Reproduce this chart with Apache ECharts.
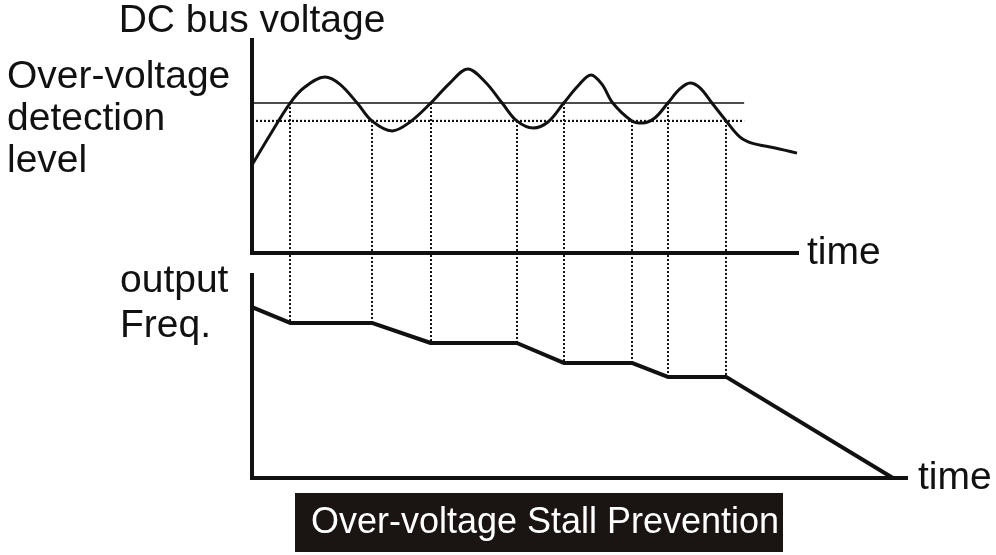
<!DOCTYPE html>
<html>
<head>
<meta charset="utf-8">
<script src="https://cdn.jsdelivr.net/npm/echarts@6/dist/echarts.min.js"></script>
<style>
  html, body { margin: 0; padding: 0; background: #fff; }
  #chart { width: 996px; height: 555px; }
</style>
</head>
<body>
<div id="chart"></div>
<script>
// DC bus voltage (top panel), time in arbitrary units
const voltTime = [0, 3.3, 7.0, 9.7, 13.4, 16.1, 19.3, 22.0, 25.7, 29.0,
  32.8, 36.3, 39.6, 42.8, 45.9, 48.6, 51.6, 54.3, 57.2, 59.8,
  62.2, 64.2, 66.2, 69.7, 71.6, 73.9, 76.3, 78.5, 80.4, 82.2,
  84.4, 87.0, 89.5, 91.7, 96.0, 100];
const voltage = [41.3, 55.4, 70.4, 77.9, 82.6, 79.3, 70.4, 62.0, 57.3, 61.5,
  70.4, 79.8, 86.4, 80.3, 70.4, 62.0, 58.7, 61.5, 70.4, 78.4,
  83.6, 79.3, 70.4, 62.0, 61.0, 63.4, 70.4, 77.0, 79.8, 77.5,
  70.4, 62.0, 54.5, 51.6, 49.3, 46.9];

// over-voltage detection levels
const upperLevel = 70.4;
const lowerLevel = 62.0;
const levelEnd = 90.3;

// output frequency (bottom panel)
const freqTime = [0, 7.0, 22.0, 32.8, 48.6, 57.2, 69.7, 76.3, 87.0, 117.6];
const freq = [84.2, 76.4, 76.4, 66.5, 66.5, 56.7, 56.7, 49.8, 49.8, 0];

// moments where the voltage crosses a level (stall on / off)
const crossTime = [7.0, 22.0, 32.8, 48.6, 57.2, 69.7, 76.3, 87.0];
const crossLevel = [upperLevel, lowerLevel, upperLevel, lowerLevel, upperLevel, lowerLevel, upperLevel, lowerLevel];
const crossFreq = [76.4, 76.4, 66.5, 66.5, 56.7, 56.7, 49.8, 49.8];

const ink = '#111111';
const font = 'Liberation Sans';

const chart = echarts.init(document.getElementById('chart'));

const axisLine = { show: true, lineStyle: { color: ink, width: 4, cap: 'square' } };
const bare = { axisTick: { show: false }, axisLabel: { show: false }, splitLine: { show: false } };

chart.setOption({
  animation: false,
  grid: [
    { left: 252, top: 40, width: 545, height: 213 },
    { left: 252, top: 275, width: 654, height: 203 }
  ],
  xAxis: [
    {
      gridIndex: 0, type: 'value', min: 0, max: 100, axisLine, ...bare,
      name: 'time', nameLocation: 'end', nameGap: 10,
      nameTextStyle: { fontSize: 39, fontFamily: font, color: ink, padding: [0, 0, 28, 0] }
    },
    {
      gridIndex: 1, type: 'value', min: 0, max: 120, axisLine, ...bare,
      name: 'time', nameLocation: 'end', nameGap: 12,
      nameTextStyle: { fontSize: 39, fontFamily: font, color: ink, padding: [14, 0, 0, 0] }
    }
  ],
  yAxis: [
    {
      gridIndex: 0, type: 'value', min: 0, max: 100, axisLine, ...bare,
      name: 'DC bus voltage', nameLocation: 'end', nameGap: -1,
      nameTextStyle: { fontSize: 39, fontFamily: font, color: ink }
    },
    { gridIndex: 1, type: 'value', min: 0, max: 100, axisLine, ...bare }
  ],
  series: [
    {
      type: 'custom',
      xAxisIndex: 0, yAxisIndex: 0,
      data: crossTime.map((t, i) => [t, crossLevel[i], crossFreq[i]]),
      encode: { x: 0, y: 1 },
      clip: false,
      z: 1,
      renderItem: function (params, api) {
        const t = api.value(0);
        const top = api.coord([t, api.value(1)]);
        const bot = chart.convertToPixel({ xAxisIndex: 1, yAxisIndex: 1 }, [t, api.value(2)]);
        const x = Math.round(top[0]);
        return {
          type: 'line',
          shape: { x1: x, y1: top[1], x2: x, y2: bot[1] },
          style: { stroke: ink, lineWidth: 2, lineDash: [2, 2] }
        };
      }
    },
    {
      type: 'line', xAxisIndex: 0, yAxisIndex: 0, symbol: 'none', z: 2,
      data: [[0, upperLevel], [levelEnd, upperLevel]],
      lineStyle: { color: ink, width: 1.5 }
    },
    {
      type: 'line', xAxisIndex: 0, yAxisIndex: 0, symbol: 'none', z: 2,
      data: [[0, lowerLevel], [levelEnd, lowerLevel]],
      lineStyle: { color: ink, width: 2.2, type: [2, 2] }
    },
    {
      type: 'line', xAxisIndex: 0, yAxisIndex: 0, symbol: 'none', z: 3,
      smooth: 0.35,
      data: voltTime.map((t, i) => [t, voltage[i]]),
      lineStyle: { color: ink, width: 3 }
    },
    {
      type: 'line', xAxisIndex: 1, yAxisIndex: 1, symbol: 'none', z: 3,
      data: freqTime.map((t, i) => [t, freq[i]]),
      lineStyle: { color: ink, width: 4 }
    }
  ],
  graphic: [
    {
      type: 'text', left: 7, top: 56,
      style: {
        text: 'Over-voltage\ndetection\nlevel',
        fontSize: 39, fontFamily: font, lineHeight: 42, fill: ink
      }
    },
    {
      type: 'text', left: 120, top: 259,
      style: {
        text: 'output\nFreq.',
        fontSize: 39, fontFamily: font, lineHeight: 45, fill: ink
      }
    },
    {
      type: 'rect',
      shape: { x: 295, y: 493, width: 488, height: 59 },
      style: { fill: '#1a1412' }
    },
    {
      type: 'text', x: 545, y: 523,
      style: {
        text: 'Over-voltage Stall Prevention',
        fontSize: 36, fontFamily: font, fill: '#ffffff',
        align: 'center', verticalAlign: 'middle'
      }
    }
  ]
});
</script>
</body>
</html>
